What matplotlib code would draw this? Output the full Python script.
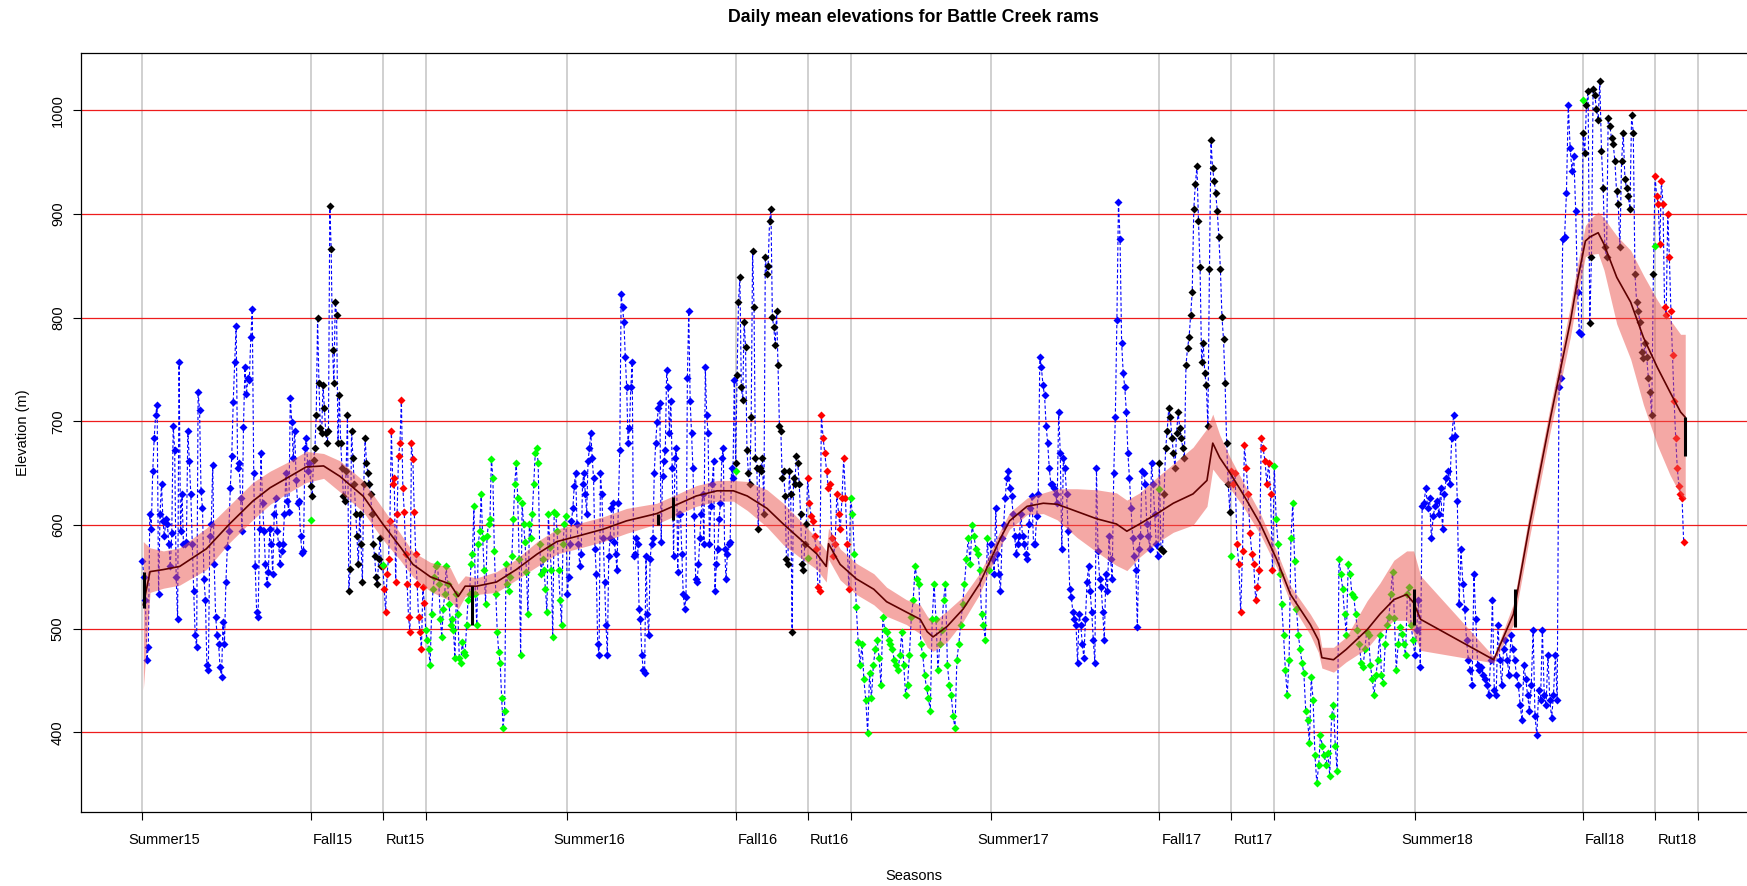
import numpy as np
import matplotlib.pyplot as plt

plt.rcParams['font.family'] = ['Liberation Sans', 'DejaVu Sans']

# day 0 = first day of Summer15
season_days = [0, 145, 207, 244, 366, 511, 573, 610, 731, 876, 938, 975, 1096, 1241, 1303, 1340]
season_names = ['Summer15', 'Fall15', 'Rut15', '', 'Summer16', 'Fall16', 'Rut16', '',
                'Summer17', 'Fall17', 'Rut17', '', 'Summer18', 'Fall18', 'Rut18', '']
last_day = 1329

# daily mean elevations (m), one list per season
summer15 = [565, 550, 528, 470, 482, 611, 596, 652, 684, 706, 716, 533, 611, 640, 604, 589, 606, 601, 582, 560,
            592, 696, 672, 550, 509, 757, 594, 630, 582, 582, 584, 691, 662, 630, 582, 536, 494, 482, 728, 711,
            633, 616, 548, 528, 465, 460, 589, 601, 658, 562, 511, 494, 485, 463, 453, 506, 485, 545, 579, 594,
            636, 667, 719, 757, 792, 655, 660, 626, 594, 695, 752, 726, 742, 740, 781, 808, 650, 560, 516, 511,
            596, 669, 621, 594, 562, 543, 555, 596, 582, 553, 611, 626, 594, 582, 562, 575, 582, 611, 650, 623,
            613, 723, 699, 665, 691, 643, 621, 623, 589, 573, 575, 674, 684, 652, 660]
fall15 = [638, 628, 663, 674, 706, 800, 737, 694, 689, 735, 713, 689, 679, 691, 908, 866, 769, 737, 815, 803,
          679, 725, 679, 655, 628, 623, 652, 706, 536, 558, 691, 665, 640, 611, 589, 562, 611, 582, 545, 640,
          684, 660, 650, 640, 630, 611, 582, 570, 550, 543, 567, 587, 560]
rut15 = [560, 538, 516, 553, 567, 604, 691, 640, 645, 545, 611, 667, 679, 721, 636, 613, 572, 543, 511, 497,
         679, 664, 613, 572, 543, 511, 497, 480, 540, 525]
winter15 = [499, 489, 480, 465, 514, 538, 550, 560, 562, 543, 509, 492, 519, 533, 560, 543, 524, 504, 509, 499,
            472, 533, 514, 472, 467, 487, 477, 475, 504, 528, 533, 562, 572, 618, 533, 504, 582, 594, 630, 587,
            557, 524, 589, 601, 606, 664, 645, 575, 533, 497, 477, 467, 433, 404, 421, 562, 543, 536, 550, 570,
            606, 640, 660, 626, 567, 475, 621, 601, 584, 555, 514, 601, 587, 611, 640, 669, 674, 660, 582, 553,
            567, 557, 538, 516, 611, 579, 557, 492, 613, 611, 594, 557, 528, 504, 582, 601, 609]
summer16 = [533, 550, 582, 604, 616, 638, 650, 601, 582, 560, 572, 640, 650, 630, 611, 662, 674, 689, 665, 645,
            577, 553, 485, 475, 650, 630, 587, 545, 504, 475, 570, 587, 616, 621, 584, 572, 557, 621, 672, 823,
            810, 796, 762, 733, 679, 694, 733, 757, 570, 572, 587, 582, 519, 509, 475, 460, 457, 570, 514, 494,
            567, 582, 587, 650, 679, 699, 713, 718, 584, 647, 662, 672, 750, 733, 689, 720, 655, 570, 665, 674,
            555, 611, 611, 572, 533, 519, 531, 742, 806, 720, 689, 655, 609, 548, 545, 562, 587, 611, 630, 582,
            752, 706, 689, 582, 618, 640, 662, 536, 562, 577, 606, 621, 665, 674, 577, 548, 572, 582, 584, 655,
            645, 740]
fall16 = [660, 745, 815, 839, 733, 721, 796, 772, 672, 650, 640, 704, 864, 810, 665, 655, 596, 655, 652, 665,
          611, 859, 842, 850, 893, 905, 801, 791, 774, 806, 754, 696, 691, 645, 652, 628, 567, 562, 652, 630,
          497, 645, 640, 667, 660, 640, 611, 562, 557, 582, 601]
rut16 = [645, 621, 609, 604, 589, 577, 540, 536, 706, 684, 669, 652, 636, 640, 587, 570, 582, 630, 611, 596,
         626, 665, 626, 582, 538]
winter16 = [626, 611, 572, 521, 487, 465, 485, 451, 431, 399, 457, 433, 465, 480, 489, 472, 446, 511, 499, 497,
            489, 485, 480, 470, 465, 460, 475, 497, 465, 436, 446, 475, 511, 528, 560, 548, 543, 485, 475, 455,
            443, 433, 421, 509, 543, 509, 460, 485, 499, 528, 543, 465, 446, 436, 416, 404, 470, 485, 504, 524,
            543, 567, 587, 562, 600, 589, 577, 572, 557, 514, 504, 489, 587, 557]
summer17 = [582, 567, 553, 616, 572, 553, 536, 587, 600, 626, 645, 652, 636, 628, 611, 589, 572, 582, 589, 611,
            589, 582, 572, 567, 601, 616, 628, 582, 582, 609, 630, 762, 752, 735, 725, 696, 679, 655, 640, 640,
            636, 630, 621, 709, 669, 577, 665, 655, 630, 594, 538, 531, 516, 509, 504, 467, 514, 504, 485, 472,
            509, 545, 560, 536, 516, 489, 467, 655, 575, 548, 540, 516, 489, 553, 536, 589, 567, 548, 650, 704,
            798, 912, 876, 776, 747, 733, 709, 669, 645, 616, 587, 570, 557, 502, 577, 589, 652, 650, 640, 601,
            589, 577, 660, 640, 611, 582, 570]
fall17 = [660, 577, 575, 630, 674, 691, 713, 704, 684, 669, 655, 689, 709, 694, 684, 674, 665, 754, 771, 781,
          803, 825, 905, 929, 946, 893, 849, 757, 776, 747, 735, 696, 847, 971, 944, 932, 920, 903, 878, 847,
          801, 779, 737, 679, 640, 613]
rut17 = [652, 640, 650, 582, 562, 516, 575, 677, 655, 630, 592, 572, 562, 528, 540, 557, 684, 674, 662, 640,
         660, 630, 557]
winter17 = [657, 606, 582, 553, 524, 494, 460, 436, 470, 587, 621, 565, 519, 494, 480, 467, 457, 421, 412, 390,
            453, 431, 378, 351, 368, 397, 387, 378, 368, 380, 358, 416, 426, 387, 363, 567, 553, 538, 514, 494,
            562, 553, 533, 531, 514, 499, 485, 467, 463, 480, 497, 494, 465, 451, 436, 455, 470, 494, 455, 448,
            485, 504, 511, 533, 555, 510, 460, 485, 502, 495, 485, 475, 533, 540, 504, 489]
summer18 = [475, 499, 528, 463, 618, 621, 636, 616, 626, 587, 609, 618, 623, 611, 636, 596, 630, 645, 652, 640,
            684, 706, 686, 623, 524, 577, 543, 519, 489, 470, 460, 446, 553, 509, 465, 460, 463, 455, 451, 446,
            436, 470, 528, 441, 436, 504, 470, 446, 480, 489, 470, 455, 494, 480, 470, 455, 446, 426, 412, 465,
            451, 436, 421, 446, 499, 416, 397, 441, 431, 499, 436, 426, 475, 431, 414, 436, 475, 431, 733, 742,
            876, 878, 920, 1005, 964, 942, 956, 903, 825, 786, 784]
fall18 = [978, 959, 1005, 1019, 795, 859, 1021, 1015, 1001, 991, 1028, 961, 925, 868, 859, 993, 985, 973, 968,
          951, 922, 910, 868, 951, 978, 934, 925, 917, 905, 996, 978, 842, 815, 806, 796, 767, 761, 776, 762,
          742, 728, 706, 842]
rut18 = [937, 917, 910, 871, 932, 910, 810, 803, 900, 859, 806, 764, 720, 684, 655, 638, 630, 626, 584]

# first day of each new season
boundary_days = [145, 207, 511, 573, 876, 938, 1241, 1303]
boundary_elev = [605, 561, 652, 568, 635, 570, 1010, 869]

# smoothed trend and its confidence band
smooth_days = [0.7, 6.5, 18, 32, 55, 75, 95, 110, 124, 141, 156, 170, 190, 207, 222, 233, 248, 265, 272, 278,
               288, 305, 322, 340, 357, 374, 397, 417, 443, 457, 477, 495, 509, 521, 538, 552, 566, 581, 589, 591,
               601, 615, 630, 641, 658, 670, 676, 681, 693, 707, 721, 730, 739, 747, 762, 776, 788, 805, 822, 839,
               848, 859, 874, 888, 905, 917, 922, 928, 937, 948, 963, 977, 989, 1006, 1013, 1016, 1026, 1037, 1055,
               1066, 1078, 1089, 1095, 1101, 1164, 1181, 1195, 1213, 1230, 1236, 1243, 1247, 1254, 1259, 1270,
               1282, 1293, 1305, 1316, 1325, 1329]
smooth_elev = [523, 555, 557, 560, 577, 601, 623, 636, 645, 656, 657, 647, 628, 601, 579, 562, 550, 543, 531, 541,
               541, 545, 557, 572, 584, 589, 596, 604, 611, 618, 628, 633, 633, 628, 616, 601, 587, 572, 560, 582,
               562, 548, 538, 526, 516, 509, 497, 492, 502, 519, 543, 565, 587, 604, 618, 621, 620, 613, 606, 601,
               594, 601, 611, 621, 630, 643, 679, 665, 650, 630, 601, 567, 533, 504, 489, 472, 470, 480, 499,
               514, 528, 533, 525, 509, 470, 514, 601, 704, 796, 835, 874, 878, 882, 871, 839,
               815, 781, 752, 728, 709, 704]
band_above = [61, 23, 18, 18, 20, 18, 18, 16, 15, 15, 12, 15, 15, 15, 13, 12, 14, 16, 12, 10,
              8, 10, 10, 12, 12, 12, 12, 12, 10, 10, 10, 10, 10, 14, 18, 20, 18, 15, 15, 15,
              15, 15, 15, 14, 12, 14, 15, 14, 15, 12, 10, 8, 8, 8, 8, 10, 15, 22, 28, 30,
              30, 30, 35, 38, 45, 50, 28, 22, 15, 12, 10, 8, 8, 10, 12, 10, 12, 12, 28,
              30, 38, 42, 50, 42, 3, 10, 12, 12, 15, 15, 15, 17, 20, 25, 40,
              50, 60, 65, 70, 75, 80]
band_below = [82, 20, 18, 18, 20, 18, 18, 16, 15, 15, 12, 15, 15, 15, 13, 12, 14, 16, 12, 10,
              8, 10, 10, 12, 12, 12, 12, 12, 10, 10, 10, 10, 10, 14, 18, 20, 18, 15, 15, 15,
              15, 15, 15, 14, 12, 14, 15, 14, 15, 12, 10, 8, 8, 8, 8, 10, 15, 25, 32, 40,
              38, 32, 28, 28, 30, 25, 25, 20, 15, 12, 10, 8, 8, 10, 12, 10, 12, 12, 18,
              18, 20, 25, 30, 30, 3, 10, 12, 12, 15, 15, 15, 17, 20, 25, 45,
              55, 65, 75, 80, 80, 80]

# breaks in the smoothed trend
break_days = [1, 284, 444, 457, 1095, 1182, 1329]
break_low = [520, 504, 600, 605, 504, 502, 667]
break_high = [555, 541, 611, 627, 538, 538, 704]

segments = [(summer15, 0, 145, 'blue'), (fall15, 145, 207, 'black'), (rut15, 207, 244, 'red'),
            (winter15, 244, 366, '#00ff00'), (summer16, 366, 511, 'blue'), (fall16, 511, 573, 'black'),
            (rut16, 573, 610, 'red'), (winter16, 610, 731, '#00ff00'), (summer17, 731, 876, 'blue'),
            (fall17, 876, 938, 'black'), (rut17, 938, 975, 'red'), (winter17, 975, 1096, '#00ff00'),
            (summer18, 1096, 1241, 'blue'), (fall18, 1241, 1303, 'black'), (rut18, 1303, last_day, 'red')]

fig = plt.figure(figsize=(17.47, 8.86), dpi=100)
ax = fig.add_axes([0.04654, 0.08318, 0.95518, 0.85734])

for d in season_days:
    ax.axvline(d, color='#c4c4c4', lw=1.1, zorder=0)
for h in range(400, 1001, 100):
    ax.axhline(h, color='#ee1c1c', lw=0.9, zorder=1)

all_days, all_elev = [], []
for vals, start, end, col in segments:
    d = np.linspace(start, end, len(vals), endpoint=False)
    ax.plot(d, vals, 'D', color=col, ms=4, mec='none', zorder=3)
    all_days.extend(d)
    all_elev.extend(vals)
ax.plot(all_days, all_elev, color='blue', lw=0.8, ls=(0, (3, 2)), zorder=2)
ax.plot(boundary_days, boundary_elev, 'D', color='#00ff00', ms=4, mec='none', zorder=3)

sm = np.array(smooth_elev)
ax.fill_between(smooth_days, sm - np.array(band_below), sm + np.array(band_above),
                color=(0.92, 0.32, 0.3), alpha=0.5, lw=0, zorder=4)
ax.plot(smooth_days, smooth_elev, color='#5e0000', lw=1.2, zorder=5)
ax.vlines(break_days, break_low, break_high, color='black', lw=2.2, zorder=5)

ax.set_xlim(-52.7, 1384.8)
ax.set_ylim(322.8, 1055.7)
ax.spines['right'].set_visible(False)
for s in ['left', 'bottom', 'top']:
    ax.spines[s].set_linewidth(0.9)

ax.set_xticks(season_days)
ax.set_xticklabels([])
ax.tick_params(axis='x', length=5.8, width=0.8)
for d, name in zip(season_days, season_names):
    if name:
        ax.annotate(name, xy=(d, 0), xycoords=('data', 'axes fraction'), xytext=(16, -20),
                    textcoords='offset points', ha='center', va='center', fontsize=10.5)

ax.set_yticks(range(400, 1001, 100))
ax.tick_params(axis='y', length=5.8, width=0.8, labelsize=10.5, labelrotation=90, pad=6)
for lbl in ax.get_yticklabels():
    lbl.set_va('center')

fig.text(913.7 / 1747, 1 - 17.3 / 886, 'Daily mean elevations for Battle Creek rams',
         ha='center', va='center', fontsize=12.8, fontweight='bold')
fig.text(913.7 / 1747, 1 - 876 / 886, 'Seasons', ha='center', va='center', fontsize=10.5)
fig.text(23 / 1747, 1 - 432.5 / 886, 'Elevation (m)', rotation=90, ha='center', va='center', fontsize=10.5)

fig.savefig('out.png', dpi=100)
